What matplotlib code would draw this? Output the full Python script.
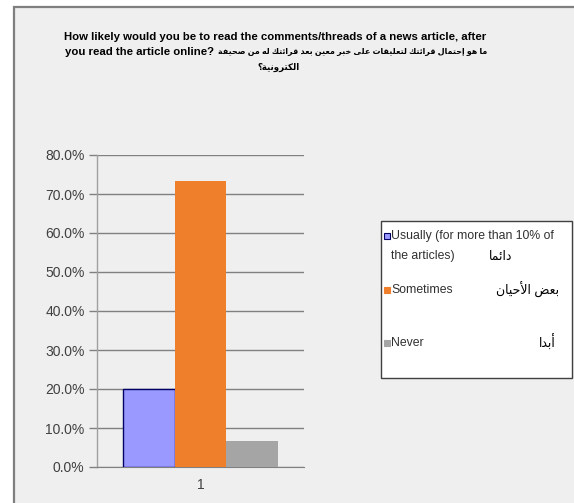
import matplotlib
matplotlib.use("Agg")
import matplotlib.pyplot as plt
from matplotlib.patches import Rectangle
from matplotlib import font_manager

# ---------------- data ----------------
categories = ["1"]
series_names = ["Usually (for more than 10% of\nthe articles)", "Sometimes", "Never"]
series_arabic = ["دائما", "بعض الأحيان", "أبدا"]
series_values = [20.0, 73.3, 6.7]
series_colors = ["#9999ff", "#f07f2c", "#a5a5a5"]
yticks = [0, 10, 20, 30, 40, 50, 60, 70, 80]
title_en1 = "How likely would you be to read the comments/threads of a news article, after"
title_en2 = "you read the article online?"
title_ar1 = "ما هو إحتمال قرائتك لتعليقات على خبر معين بعد قرائتك له من صحيفة"
title_ar2 = "الكترونية؟"

# ---------------- minimal Arabic shaping ----------------
DUAL = {'ب': 0xFE8F, 'ت': 0xFE95, 'ث': 0xFE99, 'ج': 0xFE9D, 'ح': 0xFEA1, 'خ': 0xFEA5,
        'س': 0xFEB1, 'ش': 0xFEB5, 'ص': 0xFEB9, 'ض': 0xFEBD, 'ط': 0xFEC1, 'ظ': 0xFEC5,
        'ع': 0xFEC9, 'غ': 0xFECD, 'ف': 0xFED1, 'ق': 0xFED5, 'ك': 0xFED9, 'ل': 0xFEDD,
        'م': 0xFEE1, 'ن': 0xFEE5, 'ه': 0xFEE9, 'ي': 0xFEF1, 'ئ': 0xFE89}
RIGHT = {'ا': 0xFE8D, 'أ': 0xFE83, 'إ': 0xFE87, 'آ': 0xFE81, 'د': 0xFEA9, 'ذ': 0xFEAB,
         'ر': 0xFEAD, 'ز': 0xFEAF, 'و': 0xFEED, 'ى': 0xFEEF, 'ة': 0xFE93}
LAMALEF = {'ا': 0xFEFB, 'أ': 0xFEF7, 'إ': 0xFEF9, 'آ': 0xFEF5}


def shape(text):
    out = []
    chars = list(text)
    n = len(chars)
    i = 0
    while i < n:
        c = chars[i]
        prev = chars[i - 1] if i > 0 else ''
        joins_prev = prev in DUAL
        if c == 'ل' and i + 1 < n and chars[i + 1] in LAMALEF:
            base = LAMALEF[chars[i + 1]]
            out.append(chr(base + (1 if joins_prev else 0)))
            i += 2
            continue
        nxt = chars[i + 1] if i + 1 < n else ''
        joins_next_ok = nxt in DUAL or nxt in RIGHT
        if c in DUAL:
            b = DUAL[c]
            if joins_prev and joins_next_ok:
                out.append(chr(b + 3))
            elif joins_prev:
                out.append(chr(b + 1))
            elif joins_next_ok:
                out.append(chr(b + 2))
            else:
                out.append(chr(b))
        elif c in RIGHT:
            b = RIGHT[c]
            out.append(chr(b + 1) if joins_prev else chr(b))
        else:
            out.append(c)
        i += 1
    return ''.join(out)[::-1]


fonts = font_manager.fontManager.ttflist
names = {f.name for f in fonts}
narrow = 'Liberation Sans Narrow' if 'Liberation Sans Narrow' in names else 'Liberation Sans'
FONT = [narrow, 'DejaVu Sans']
plt.rcParams['font.family'] = FONT
TITLE_FONT = [narrow, 'DejaVu Sans']

# ---------------- figure ----------------
W, H = 574, 503
fig = plt.figure(figsize=(W / 100, H / 100), dpi=100)
fig.patch.set_facecolor('white')
renderer = fig.canvas.get_renderer()


def fx(px):
    return px / W


def fy(py):
    return 1 - py / H


# outer chart frame
fig.patches.append(Rectangle((14 / W, -0.05), 1.0, 1 - 7 / H + 0.05, transform=fig.transFigure,
                             facecolor='#efefef', edgecolor='#7f7f7f', linewidth=1.6,
                             zorder=-5))

# title (font size fitted so the lines span about the reference width)
tkw = dict(va='center', fontweight='bold', color='black', family=TITLE_FONT)
LINE_W = 420
CX = 275
t1 = fig.text(fx(CX), fy(37), title_en1, fontsize=10, ha='center', **tkw)
w1 = t1.get_window_extent(renderer).width
tsize = 10 * LINE_W / w1
t1.set_fontsize(tsize)

t2e = fig.text(0, fy(52), title_en2, fontsize=tsize, ha='right', **tkw)
wE = t2e.get_window_extent(renderer).width
t2a = fig.text(0, fy(52), shape(title_ar1), fontsize=10, ha='left', **tkw)
wA0 = t2a.get_window_extent(renderer).width
asize = 10 * (LINE_W - wE - 4) / wA0
t2a.set_fontsize(asize)
split = CX - LINE_W / 2 + wE
t2e.set_x(fx(split))
t2a.set_x(fx(split + 4))
fig.text(fx(279), fy(67), shape(title_ar2), fontsize=asize * 1.1, ha='center', **tkw)

# axes
ax = fig.add_axes([fx(97), fy(467), fx(304) - fx(97), fy(155) - fy(467)])
ax.set_facecolor('none')
ax.set_ylim(0, 80)
ax.set_xlim(0.5, 1.5)
width = 0.25
for k, (v, col) in enumerate(zip(series_values, series_colors)):
    xpos = 1 + (k - 1) * width
    ax.bar(xpos, v, width=width, color=col, zorder=3,
           edgecolor='#000066' if k == 0 else col, linewidth=1.0 if k == 0 else 0)

ax.set_yticks(yticks)
ax.set_yticklabels([f"{t:.1f}%" for t in yticks], fontsize=10, color='#404040')
ax.set_xticks([1])
ax.set_xticklabels(categories, fontsize=10, color='#404040')
ax.grid(axis='y', color='#808080', linewidth=1.0, zorder=0)
ax.tick_params(axis='y', length=6, width=1.0, color='#808080', pad=3)
ax.tick_params(axis='x', length=0, pad=8)
for s in ['top', 'right']:
    ax.spines[s].set_visible(False)
ax.spines['left'].set_color('#a0a0a0')
ax.spines['bottom'].set_color('#808080')
ax.spines['left'].set_linewidth(1.0)

# legend box
fig.patches.append(Rectangle((fx(381), fy(378)), fx(572) - fx(381), fy(221) - fy(378),
                             transform=fig.transFigure, facecolor='white',
                             edgecolor='#404040', linewidth=1.0, zorder=1))
leg_y = [236, 290, 343]
ar_pos = [(512, 257), (559, 290), (556, 343)]
for k in range(len(series_names)):
    fig.patches.append(Rectangle((fx(384), fy(leg_y[k] + 3)), fx(6), 6 / H,
                                 transform=fig.transFigure, facecolor=series_colors[k],
                                 edgecolor='#000066' if k == 0 else series_colors[k],
                                 linewidth=0.8, zorder=2))
    for j, line in enumerate(series_names[k].split('\n')):
        fig.text(fx(391), fy(leg_y[k] + 20 * j), line, ha='left', va='center',
                 fontsize=8.8, color='#303030', zorder=3)
    fig.text(fx(ar_pos[k][0]), fy(ar_pos[k][1]), shape(series_arabic[k]), ha='right',
             va='center', fontsize=9, color='black', zorder=3)

fig.savefig('out.png', dpi=100)
